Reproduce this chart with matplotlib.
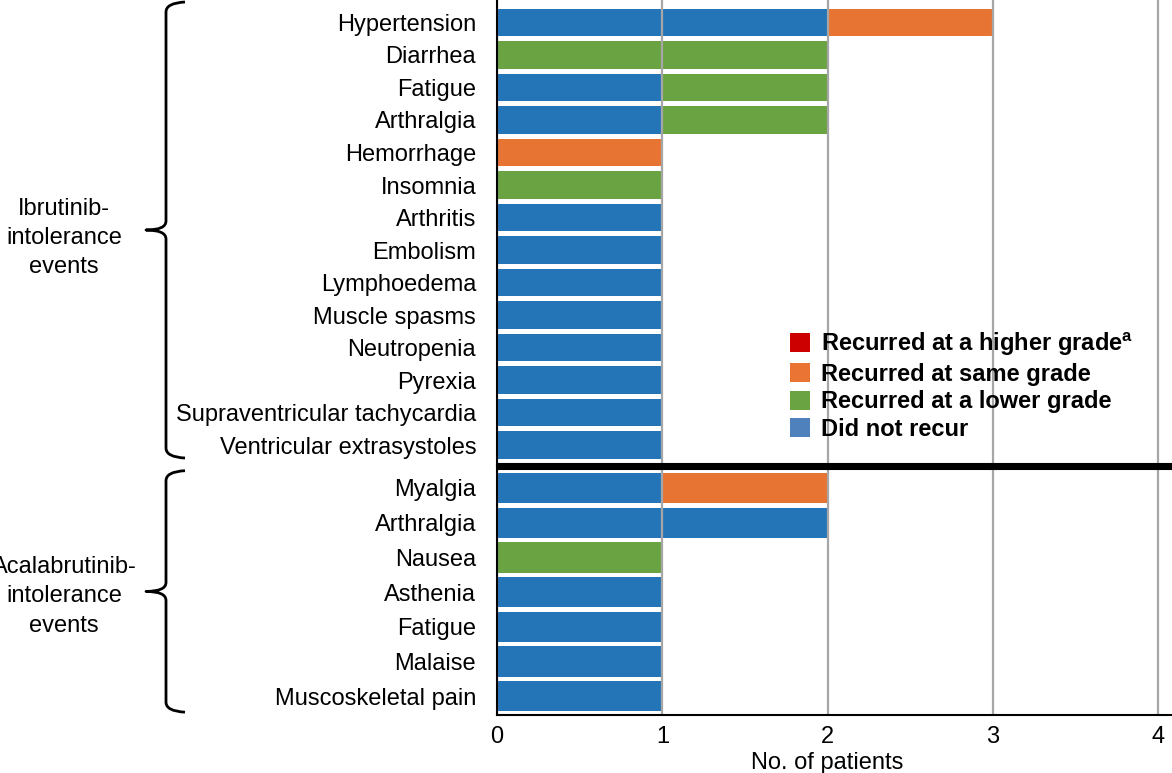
import matplotlib
matplotlib.use("Agg")
import matplotlib.pyplot as plt
from matplotlib.patches import Patch
from matplotlib.path import Path
from matplotlib.patches import PathPatch
from matplotlib.transforms import IdentityTransform

plt.rcParams['font.family'] = ['Liberation Sans', 'DejaVu Sans']
plt.rcParams['mathtext.fontset'] = 'custom'
plt.rcParams['mathtext.rm'] = 'Liberation Sans'
plt.rcParams['mathtext.bf'] = 'Liberation Sans:bold'

# ---------------- data ----------------
ibr_events = ["Hypertension", "Diarrhea", "Fatigue", "Arthralgia", "Hemorrhage",
              "Insomnia", "Arthritis", "Embolism", "Lymphoedema", "Muscle spasms",
              "Neutropenia", "Pyrexia", "Supraventricular tachycardia",
              "Ventricular extrasystoles"]
ibr_not_recur = [2, 0, 1, 1, 0, 0, 1, 1, 1, 1, 1, 1, 1, 1]
ibr_lower     = [0, 2, 1, 1, 0, 1, 0, 0, 0, 0, 0, 0, 0, 0]
ibr_same      = [1, 0, 0, 0, 1, 0, 0, 0, 0, 0, 0, 0, 0, 0]
ibr_higher    = [0, 0, 0, 0, 0, 0, 0, 0, 0, 0, 0, 0, 0, 0]

aca_events = ["Myalgia", "Arthralgia", "Nausea", "Asthenia", "Fatigue", "Malaise",
              "Muscoskeletal pain"]
aca_not_recur = [1, 2, 0, 1, 1, 1, 1]
aca_lower     = [0, 0, 1, 0, 0, 0, 0]
aca_same      = [1, 0, 0, 0, 0, 0, 0]
aca_higher    = [0, 0, 0, 0, 0, 0, 0]

group_labels = ["Ibrutinib-\nintolerance\nevents", "Acalabrutinib-\nintolerance\nevents"]
legend_labels = ["Recurred at a higher grade$^{\\mathbf{a}}$", "Recurred at same grade",
                 "Recurred at a lower grade", "Did not recur"]
x_ticks = [0, 1, 2, 3, 4]
x_label = "No. of patients"

bar_colors = {"not": "#2474b8", "lower": "#6aa342", "same": "#e87433", "higher": "#cc0000"}
legend_colors = ["#cc0000", "#ea7434", "#6aa342", "#4f81bd"]

# ---------------- figure ----------------
W, H = 1172, 773
fig = plt.figure(figsize=(W / 100, H / 100), dpi=100)

left = 497 / W
width = 1 - left
ax_top = fig.add_axes([left, 1 - 465.5 / H, width, 465.5 / H])
ax_bot = fig.add_axes([left, 1 - 715 / H, width, (715 - 465.5) / H])
ax_bot.patch.set_visible(False)
ax_top.set_zorder(2)
ax_top.patch.set_visible(False)

XMAX = 4.083
FS = 17


def draw_group(ax, events, series, bar_h):
    ypos = list(range(len(events)))
    lefts = [0] * len(events)
    for key, vals in series:
        ax.barh(ypos, vals, left=lefts, height=bar_h, color=bar_colors[key],
                edgecolor='none', zorder=1)
        lefts = [a + b for a, b in zip(lefts, vals)]
    ax.set_yticks(ypos)
    ax.set_yticklabels(events, fontsize=FS)
    ax.tick_params(axis='y', length=0, pad=15)
    ax.set_xlim(0, XMAX)
    ax.set_xticks(x_ticks)
    ax.xaxis.grid(True, color='#a6a6a6', lw=1.6, zorder=3)
    ax.set_axisbelow(False)
    for s in ['top', 'right']:
        ax.spines[s].set_visible(False)
    ax.spines['left'].set_linewidth(1.5)
    ax.spines['left'].set_zorder(6)


draw_group(ax_top, ibr_events,
           [("not", ibr_not_recur), ("lower", ibr_lower), ("same", ibr_same), ("higher", ibr_higher)],
           0.86)
ax_top.set_ylim(13.63, -0.692)
ax_top.spines['bottom'].set_linewidth(5.1)
ax_top.spines['bottom'].set_zorder(7)
ax_top.spines['bottom'].set_capstyle('butt')
ax_top.tick_params(axis='x', length=0, labelbottom=False)

draw_group(ax_bot, aca_events,
           [("not", aca_not_recur), ("lower", aca_lower), ("same", aca_same), ("higher", aca_higher)],
           0.87)
ax_bot.set_ylim(6.54, -0.648)
ax_bot.spines['bottom'].set_linewidth(1.5)
ax_bot.spines['bottom'].set_zorder(6)
ax_bot.tick_params(axis='x', length=0, pad=8, labelsize=FS)
ax_bot.set_xlabel(x_label, fontsize=FS, labelpad=2)
ax_bot.xaxis.set_label_coords(2 / XMAX, -0.15)

# legend
handles = [Patch(facecolor=c, edgecolor='none') for c in legend_colors]
leg = ax_top.legend(handles, legend_labels, loc='upper left',
                    bbox_to_anchor=(790 / W, 1 - 330 / H), bbox_transform=fig.transFigure,
                    frameon=False, prop={'weight': 'bold', 'size': FS},
                    handlelength=0.85, handleheight=0.85, handletextpad=0.45,
                    labelspacing=0.2, borderpad=0, borderaxespad=0)
leg.set_zorder(10)

fig.canvas.draw()


# braces and group labels (display pixel coordinates, y up)
def brace(ax, n, top_off, bot_off, label, label_shift):
    t = ax.transData
    y_top = t.transform((0, 0 - top_off))[1]
    y_bot = t.transform((0, n - 1 + bot_off))[1]
    y_mid = (y_top + y_bot) / 2
    xv, xr, xt = 166, 185, 146
    r = 9
    verts = [(xr, y_top + 1), (xv, y_top), (xv, y_top - r),
             (xv, y_mid + r), (xv, y_mid), (xt, y_mid),
             (xv, y_mid), (xv, y_mid - r),
             (xv, y_bot + r), (xv, y_bot), (xr, y_bot - 1)]
    codes = [Path.MOVETO, Path.CURVE3, Path.CURVE3,
             Path.LINETO, Path.CURVE3, Path.CURVE3,
             Path.CURVE3, Path.CURVE3,
             Path.LINETO, Path.CURVE3, Path.CURVE3]
    pp = PathPatch(Path(verts, codes), transform=IdentityTransform(), fill=False,
                   lw=2.0, edgecolor='black', capstyle='butt', joinstyle='round')
    fig.add_artist(pp)
    fig.text(64 / W, (y_mid - label_shift) / H, label, ha='center', va='center', fontsize=FS,
             linespacing=1.42, multialignment='center')


brace(ax_top, len(ibr_events), 0.6, 0.37, group_labels[0], 8)
brace(ax_bot, len(aca_events), 0.47, 0.43, group_labels[1], 5)

fig.savefig("out.png", dpi=100)
